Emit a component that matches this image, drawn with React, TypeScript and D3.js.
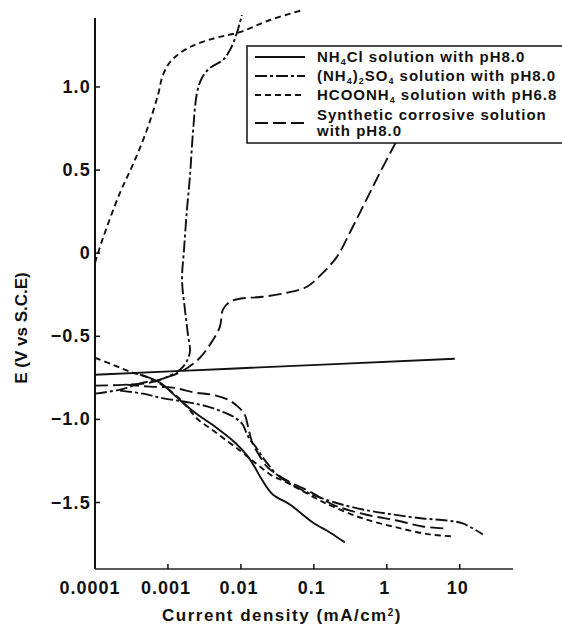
import React from 'react';
import * as d3 from 'd3';

type Pt = [number, number]; // [current density mA/cm2, E V vs SCE]

const xTicks = [0.0001, 0.001, 0.01, 0.1, 1, 10];
const xTickLabels = ['0.0001', '0.001', '0.01', '0.1', '1', '10'];
const yTicks = [1.0, 0.5, 0, -0.5, -1.0, -1.5];
const yTickLabels = ['1.0', '0.5', '0', '\u22120.5', '\u22121.0', '\u22121.5'];

// NH4Cl, pH 8.0
const nh4clAnodic: Pt[] = [
    [0.0001, -0.731], [0.0071, -0.695], [8.55, -0.635]
];
const nh4clCathodic: Pt[] = [
    [0.000413, -0.731], [0.000777, -0.779], [0.00129, -0.863], [0.00234, -0.959],
    [0.0044, -1.043], [0.00828, -1.139], [0.0125, -1.224], [0.0156, -1.29],
    [0.0194, -1.362], [0.0274, -1.452], [0.0469, -1.512], [0.0968, -1.62],
    [0.166, -1.68], [0.266, -1.74]
];

// (NH4)2SO4, pH 8.0
const sulfateAnodic: Pt[] = [
    [0.0001, -0.845], [0.00022, -0.821], [0.000455, -0.779], [0.000777, -0.761],
    [0.00106, -0.737], [0.00146, -0.701], [0.00177, -0.659], [0.002, -0.593],
    [0.00188, -0.49], [0.00171, -0.34], [0.00156, -0.16], [0.00166, 0.02],
    [0.00182, 0.261], [0.002, 0.459], [0.0022, 0.724], [0.0025, 0.964],
    [0.00292, 1.054], [0.00376, 1.114], [0.00567, 1.162], [0.00707, 1.222],
    [0.00881, 1.325], [0.0103, 1.433]
];
const sulfateCathodic: Pt[] = [
    [0.00022, -0.827], [0.000455, -0.845], [0.000777, -0.869], [0.002, -0.899],
    [0.00353, -0.923], [0.0055, -0.953], [0.00828, -0.989], [0.0106, -1.031],
    [0.0117, -1.073], [0.0133, -1.121], [0.0166, -1.175], [0.02, -1.23],
    [0.025, -1.284], [0.0311, -1.332], [0.0469, -1.386], [0.0881, -1.446],
    [0.194, -1.5], [0.469, -1.542], [1.21, -1.572], [3.11, -1.596],
    [6.63, -1.608], [11.0, -1.626], [20.7, -1.692]
];

// HCOONH4, pH 6.8
const formateAnodic: Pt[] = [
    [0.0001, -0.058], [0.000129, 0.093], [0.00022, 0.363], [0.000353, 0.561],
    [0.000532, 0.76], [0.00073, 0.952], [0.000855, 1.072], [0.00113, 1.162],
    [0.002, 1.24], [0.0044, 1.294], [0.00969, 1.33], [0.025, 1.403],
    [0.0707, 1.463]
];
const formateCathodic: Pt[] = [
    [0.0001, -0.629], [0.000176, -0.671], [0.0003, -0.713], [0.0005, -0.743],
    [0.000777, -0.785], [0.00125, -0.851], [0.00182, -0.923], [0.00258, -1.001],
    [0.004, -1.061], [0.00663, -1.133], [0.00969, -1.187], [0.0133, -1.236],
    [0.0182, -1.284], [0.0266, -1.338], [0.0376, -1.368], [0.0643, -1.422],
    [0.121, -1.488], [0.182, -1.524], [0.469, -1.596], [1.37, -1.65],
    [3.88, -1.692], [8.55, -1.704]
];

// Synthetic corrosive solution, pH 8.0
const syntheticAnodic: Pt[] = [
    [0.0001, -0.797], [0.000266, -0.791], [0.000567, -0.779], [0.00094, -0.749],
    [0.0016, -0.707], [0.00274, -0.629], [0.004, -0.532], [0.00516, -0.442],
    [0.00567, -0.34], [0.00707, -0.292], [0.00969, -0.274], [0.02, -0.262],
    [0.0427, -0.238], [0.0802, -0.202], [0.133, -0.118], [0.207, -0.022],
    [0.311, 0.123], [0.427, 0.243], [0.585, 0.363], [0.802, 0.483],
    [1.17, 0.621], [1.51, 0.712]
];
const syntheticCathodic: Pt[] = [
    [0.000266, -0.791], [0.000567, -0.803], [0.00117, -0.809], [0.00234, -0.839],
    [0.004, -0.851], [0.00663, -0.881], [0.0091, -0.923], [0.0113, -0.971],
    [0.0125, -1.043], [0.0133, -1.091], [0.0146, -1.151], [0.0166, -1.193],
    [0.0194, -1.242], [0.0227, -1.284], [0.0274, -1.314], [0.0365, -1.35],
    [0.055, -1.392], [0.0881, -1.434], [0.194, -1.518], [0.585, -1.578],
    [1.37, -1.608], [3.11, -1.644], [6.23, -1.656]
];

const dashes = {
    solid: '',
    dashDot: '12,3,3,3',
    short: '6,4',
    long: '13,5'
};

const curves: { data: Pt[]; dash: string }[] = [
    { data: nh4clAnodic, dash: dashes.solid },
    { data: nh4clCathodic, dash: dashes.solid },
    { data: sulfateAnodic, dash: dashes.dashDot },
    { data: sulfateCathodic, dash: dashes.dashDot },
    { data: formateAnodic, dash: dashes.short },
    { data: formateCathodic, dash: dashes.short },
    { data: syntheticAnodic, dash: dashes.long },
    { data: syntheticCathodic, dash: dashes.long }
];

// legend text pieces: [text, isSubscript]
const legendItems: { parts: [string, boolean][][]; dash: string }[] = [
    { parts: [[['NH', false], ['4', true], ['Cl solution with pH8.0', false]]], dash: dashes.solid },
    { parts: [[['(NH', false], ['4', true], [')', false], ['2', true], ['SO', false], ['4', true], [' solution with pH8.0', false]]], dash: dashes.dashDot },
    { parts: [[['HCOONH', false], ['4', true], [' solution with pH6.8', false]]], dash: dashes.short },
    { parts: [[['Synthetic corrosive solution', false]], [['with pH8.0', false]]], dash: dashes.long }
];

const W = 562;
const H = 625;
const margin = { top: 18, right: 49, bottom: 56, left: 95 };
const font = '"Liberation Sans", Arial, sans-serif';

export default function App() {
    const x = d3.scaleLog().domain([1e-4, 53.7]).range([margin.left, W - margin.right]);
    const y = d3.scaleLinear().domain([-1.9, 1.415]).range([H - margin.bottom, margin.top]);

    const line = d3.line<Pt>()
        .curve(d3.curveCatmullRom.alpha(0.5))
        .x((d) => x(d[0]))
        .y((d) => y(d[1]));

    const x0 = margin.left;
    const y0 = H - margin.bottom;

    // legend layout
    const lg = { x: 247, y: 46, w: 330, h: 97 };
    const rowY = [57, 76, 95, 115];

    return (
        <svg width={W} height={H} style={{ position: 'absolute', left: 0, top: 0, background: '#fff' }}
            fontFamily={font} fontWeight="bold">
            {/* curves */}
            {curves.map((c, i) => (
                <path key={i} d={line(c.data) ?? ''} fill="none" stroke="#111" strokeWidth={1.9}
                    strokeDasharray={c.dash || undefined} strokeLinejoin="round" />
            ))}

            {/* axes */}
            <line x1={x0} x2={x0} y1={margin.top} y2={y0} stroke="#111" strokeWidth={2} />
            <line x1={x0} x2={W - margin.right} y1={y0} y2={y0} stroke="#222" strokeWidth={1.5} />
            {yTicks.map((t, i) => (
                <g key={t}>
                    <line x1={x0} x2={x0 + 5} y1={y(t)} y2={y(t)} stroke="#111" strokeWidth={1.5} />
                    <text x={x0 - 4} y={y(t) + 6} textAnchor="end" fontSize={18} letterSpacing={1.2} fill="#111">
                        {yTickLabels[i]}
                    </text>
                </g>
            ))}
            {xTicks.map((t, i) => (
                <g key={t}>
                    <line x1={x(t)} x2={x(t)} y1={y0} y2={y0 - 5} stroke="#111" strokeWidth={1.5} />
                    <text x={x(t) - (i === 0 ? 5 : 2)} y={y0 + 25} textAnchor="middle" fontSize={18}
                        letterSpacing={1} fill="#111">
                        {xTickLabels[i]}
                    </text>
                </g>
            ))}
            <text x={282} y={621} textAnchor="middle" fontSize={17} letterSpacing={1.5} fill="#111">
                Current density (mA/cm<tspan baselineShift="super" fontSize={10}>2</tspan>)
            </text>
            <text transform={`translate(27, 328) rotate(-90)`} textAnchor="middle" fontSize={17} fill="#111">
                E (V vs S.C.E)
            </text>

            {/* legend */}
            <rect x={lg.x} y={lg.y} width={lg.w} height={lg.h} fill="#fff" stroke="#111" strokeWidth={1.5} />
            {legendItems.map((item, i) => {
                const ly = i === 3 ? 123 : rowY[i];
                return (
                    <g key={i}>
                        <line x1={255} x2={305} y1={ly} y2={ly} stroke="#111" strokeWidth={1.8}
                            strokeDasharray={item.dash || undefined} />
                        {item.parts.map((row, r) => (
                            <text key={r} x={317} y={rowY[i] + 5 + r * 16} fontSize={15} letterSpacing={1}
                                fill="#111">
                                {row.map(([s, sub], k) => sub
                                    ? <tspan key={k} fontSize={9} dy={3}>{s}</tspan>
                                    : <tspan key={k} dy={k > 0 && row[k - 1][1] ? -3 : 0}>{s}</tspan>)}
                            </text>
                        ))}
                    </g>
                );
            })}
        </svg>
    );
}
